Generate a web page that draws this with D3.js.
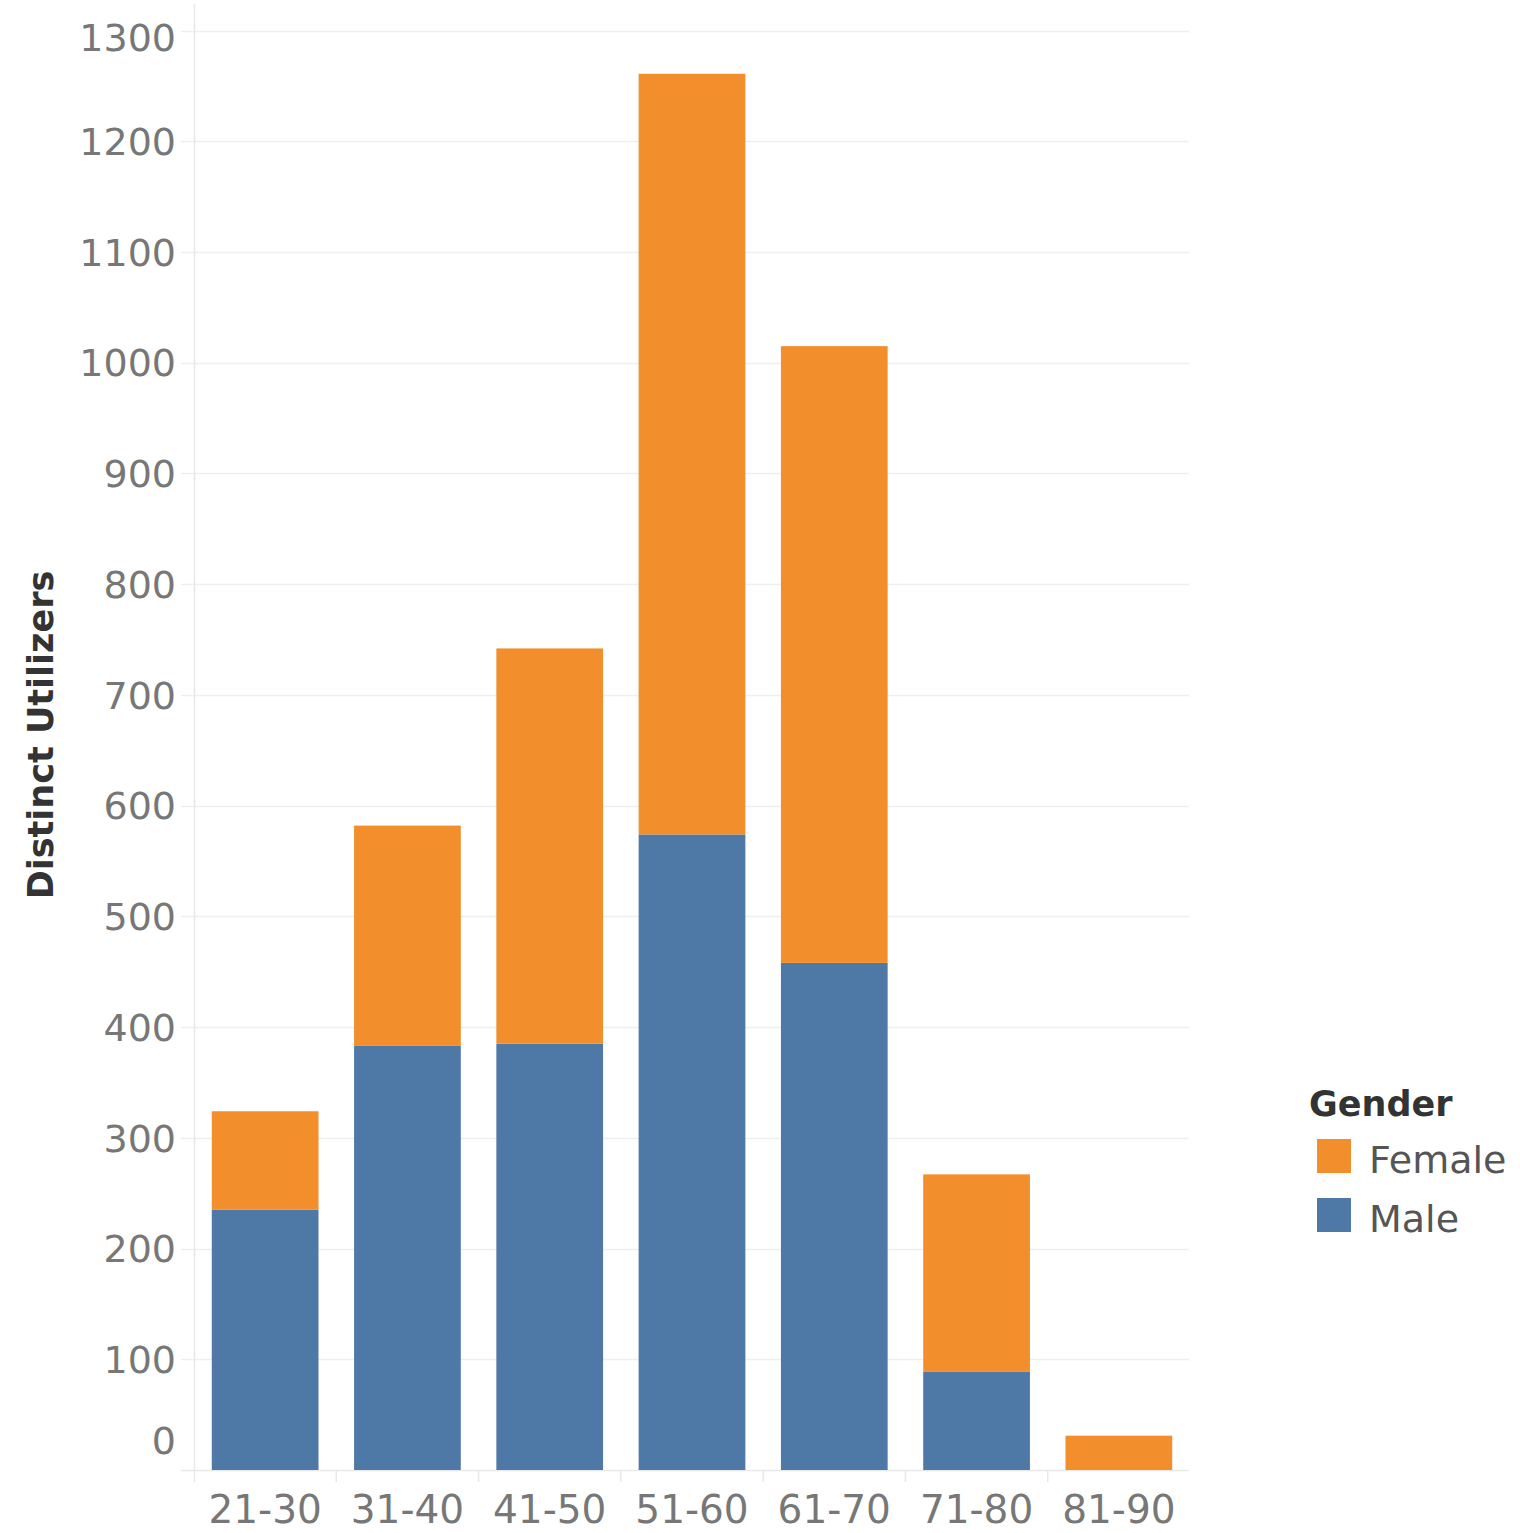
<!DOCTYPE html>
<html>
<head>
<meta charset="utf-8">
<script src="https://cdn.jsdelivr.net/npm/d3@7"></script>
<style>
  html, body { margin: 0; padding: 0; background: #fff; }
  svg { display: block; }
</style>
</head>
<body>
<svg id="chart" width="1520" height="1533"></svg>
<script>
const categories = ["21-30", "31-40", "41-50", "51-60", "61-70", "71-80", "81-90"];
const male   = [235, 383, 385, 574, 458, 89, 0];
const female = [89, 199, 357, 687, 557, 178, 31];
const yTicks = [0, 100, 200, 300, 400, 500, 600, 700, 800, 900, 1000, 1100, 1200, 1300];
const seriesNames = ["Female", "Male"];
const seriesColors = ["#F28E2B", "#4E79A7"];

const svg = d3.select("#chart");
const font = "'DejaVu Sans', 'Noto Sans', sans-serif";

const x = d3.scaleBand().domain(categories).range([194, 1190]).paddingInner(0.25).paddingOuter(0.125);
const y = d3.scaleLinear().domain([0, 1324]).range([1470, 4]);

// gridlines
svg.append("g").selectAll("line").data(yTicks.filter(d => d > 0)).join("line")
  .attr("x1", 181).attr("x2", 1189)
  .attr("y1", d => Math.round(y(d)) + 0.5).attr("y2", d => Math.round(y(d)) + 0.5)
  .attr("stroke", "#efefef").attr("stroke-width", 1.5);

// y-axis line
svg.append("line").attr("x1", 194.5).attr("x2", 194.5).attr("y1", 4).attr("y2", 1482)
  .attr("stroke", "#e8e8e8").attr("stroke-width", 1.5);

// baseline
svg.append("line").attr("x1", 181).attr("x2", 1189).attr("y1", 1470.5).attr("y2", 1470.5)
  .attr("stroke", "#e8e8e8").attr("stroke-width", 1.5);

// x ticks at band boundaries
const step = x.step();
const boundaries = categories.map((c, i) => x.range()[0] + i * step).concat([x.range()[0] + categories.length * step]);
svg.append("g").selectAll("line").data(boundaries.slice(1, -1)).join("line")
  .attr("x1", d => d).attr("x2", d => d).attr("y1", 1470).attr("y2", 1482)
  .attr("stroke", "#e8e8e8").attr("stroke-width", 1.5);

// stacked bars
const data = categories.map((c, i) => ({ cat: c, Male: male[i], Female: female[i] }));
const stack = d3.stack().keys(["Male", "Female"])(data);
const color = d3.scaleOrdinal().domain(seriesNames).range(seriesColors);
svg.append("g").selectAll("g").data(stack).join("g")
  .attr("fill", d => color(d.key))
  .selectAll("rect").data(d => d).join("rect")
  .attr("x", d => x(d.data.cat))
  .attr("width", x.bandwidth())
  .attr("y", d => y(d[1]))
  .attr("height", d => Math.max(0, y(d[0]) - y(d[1])));

// y tick labels
svg.append("g").selectAll("text").data(yTicks).join("text")
  .attr("x", 176)
  .attr("y", d => {
    let yy = y(d);
    if (d === 0) yy -= 30;
    if (d === 1300) yy += 7;
    return yy;
  })
  .attr("dy", "0.36em")
  .attr("text-anchor", "end")
  .attr("font-family", font).attr("font-size", 38).attr("fill", "#777")
  .text(d => d);

// x labels
svg.append("g").selectAll("text").data(categories).join("text")
  .attr("x", d => x(d) + x.bandwidth() / 2)
  .attr("y", 1523)
  .attr("text-anchor", "middle")
  .attr("font-family", font).attr("font-size", 39).attr("fill", "#777")
  .text(d => d);

// y title
svg.append("text")
  .attr("transform", "translate(53,735) rotate(-90)")
  .attr("text-anchor", "middle")
  .attr("font-family", font).attr("font-size", 35).attr("font-weight", "bold").attr("fill", "#333")
  .text("Distinct Utilizers");

// legend
const lg = svg.append("g");
lg.append("text").attr("x", 1309).attr("y", 1116)
  .attr("font-family", font).attr("font-size", 35).attr("font-weight", "bold").attr("fill", "#333")
  .text("Gender");
const items = lg.selectAll("g.item").data(seriesNames).join("g").attr("class", "item")
  .attr("transform", (d, i) => `translate(1317,${1139 + i * 59})`);
items.append("rect").attr("width", 34).attr("height", 34).attr("fill", d => color(d));
items.append("text").attr("x", 52).attr("y", 34)
  .attr("font-family", font).attr("font-size", 38).attr("fill", "#555")
  .text(d => d);
</script>
</body>
</html>
